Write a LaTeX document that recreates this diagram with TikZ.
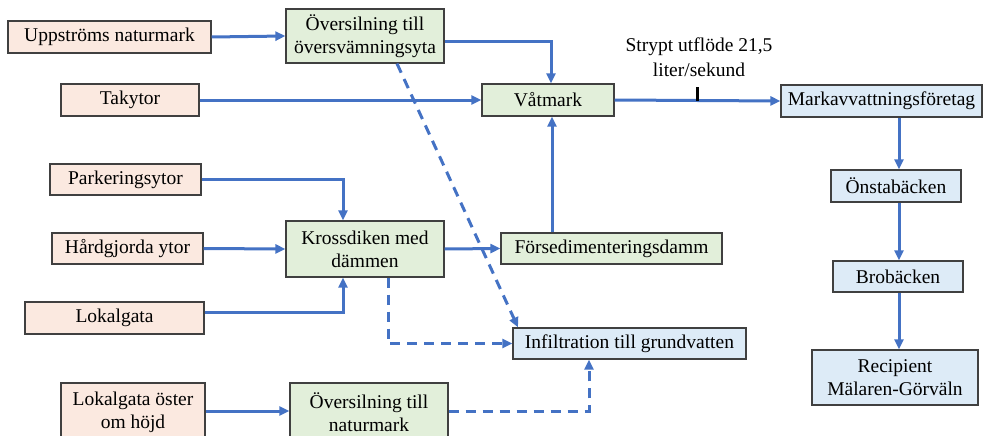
\documentclass[tikz,border=0pt]{standalone}
\usepackage{fontspec}
\setmainfont{Liberation Serif}
\usetikzlibrary{arrows.meta,calc}
\definecolor{peach}{HTML}{FBE9E0}
\definecolor{lgreen}{HTML}{E2EFDA}
\definecolor{lblue}{HTML}{DDEBF7}
\definecolor{arrblue}{HTML}{4472C4}
\definecolor{bordergray}{HTML}{404040}
\begin{document}
\begin{tikzpicture}[x=1pt,y=-1pt,
  box/.style={draw=bordergray,line width=1.2pt,inner sep=0pt,align=center,
    font=\fontsize{19.5}{23}\selectfont},
  src/.style={box,fill=peach},
  proc/.style={box,fill=lgreen},
  recv/.style={box,fill=lblue},
  arr/.style={draw=arrblue,line width=3pt,-{Triangle[length=10pt,width=9pt]}},
  darr/.style={arr,dash pattern=on 10pt off 7pt}
]
\useasboundingbox (0,0) rectangle (983,436);
\node[src,minimum width=203pt,minimum height=32pt] (up) at (109.5,37) {Uppströms naturmark};
\node[proc,minimum width=158pt,minimum height=54pt] (ovs) at (365,36) {Översilning till\\översvämningsyta};
\node[src,minimum width=138pt,minimum height=32pt] (tak) at (130,100) {Takytor};
\node[proc,minimum width=132pt,minimum height=32pt] (vat) at (548,100) {Våtmark};
\node[recv,minimum width=201pt,minimum height=32pt] (mark) at (881.5,101) {Markavvattningsföretag};
\node[font=\fontsize{19.5}{25}\selectfont,align=center,inner sep=0pt] (strypt) at (699,57) {Strypt utflöde 21,5\\liter/sekund};
\node[src,minimum width=151pt,minimum height=31pt] (park) at (125.5,179.5) {Parkeringsytor};
\node[src,minimum width=151pt,minimum height=31pt] (hard) at (127.5,248.5) {Hårdgjorda ytor};
\node[src,minimum width=179pt,minimum height=32pt] (lok) at (114.5,318) {Lokalgata};
\node[proc,minimum width=158pt,minimum height=56pt] (kross) at (365,249) {Krossdiken med\\dämmen};
\node[proc,minimum width=221pt,minimum height=31pt] (fors) at (611.5,248.5) {Försedimenteringsdamm};
\node[recv,minimum width=233pt,minimum height=31pt] (inf) at (629.5,343.5) {Infiltration till grundvatten};
\node[recv,minimum width=130pt,minimum height=32pt] (onsta) at (896,186) {Önstabäcken};
\node[recv,minimum width=130pt,minimum height=31pt] (bro) at (898,276.5) {Brobäcken};
\node[recv,minimum width=166pt,minimum height=55pt] (rec) at (895,377.5) {Recipient\\Mälaren-Görväln};
\node[src,minimum width=144pt,minimum height=58pt] (lokost) at (133,412) {Lokalgata öster\\om höjd};
\node[proc,minimum width=158pt,minimum height=58pt] (ovn) at (369,412) {Översilning till\\naturmark};
% connectors
\draw[arr] (up.east) -- (ovs.west);
\draw[arr] ($(ovs.east)+(0,6)$) -| (vat.north -| 551,0);
\draw[arr] (tak.east) -- (vat.west);
\draw[arr] (vat.east) -- (mark.west);
\coordinate (tick) at (697,101);
\draw[black,line width=3pt] (tick) -- ++(0,-14);
\draw[arr] (park.east) -| (kross.north -| 343,0);
\draw[arr] (hard.east) -- (kross.west);
\draw[arr] ($(lok.east)+(0,-6)$) -| (kross.south -| 343,0);
\draw[arr] (kross.east) -- (fors.west);
\draw[arr] (fors.north -| 552,0) -- (vat.south -| 552,0);
\draw[arr] (mark.south -| 899,0) -- (onsta.north -| 899,0);
\draw[arr] (onsta.south -| 899,0) -- (bro.north -| 899,0);
\draw[arr] (bro.south -| 899,0) -- (rec.north -| 899,0);
\draw[darr] (ovs.south -| 397,0) -- (inf.north -| 518,0);
\draw[darr] (kross.south -| 388,0) |- (inf.west);
\draw[arr] ($(lokost.east)+(0,-1)$) -- ($(ovn.west)+(0,-1)$);
\draw[darr] ($(ovn.east)+(0,-1)$) -| (inf.south -| 589,0);
\end{tikzpicture}
\end{document}
